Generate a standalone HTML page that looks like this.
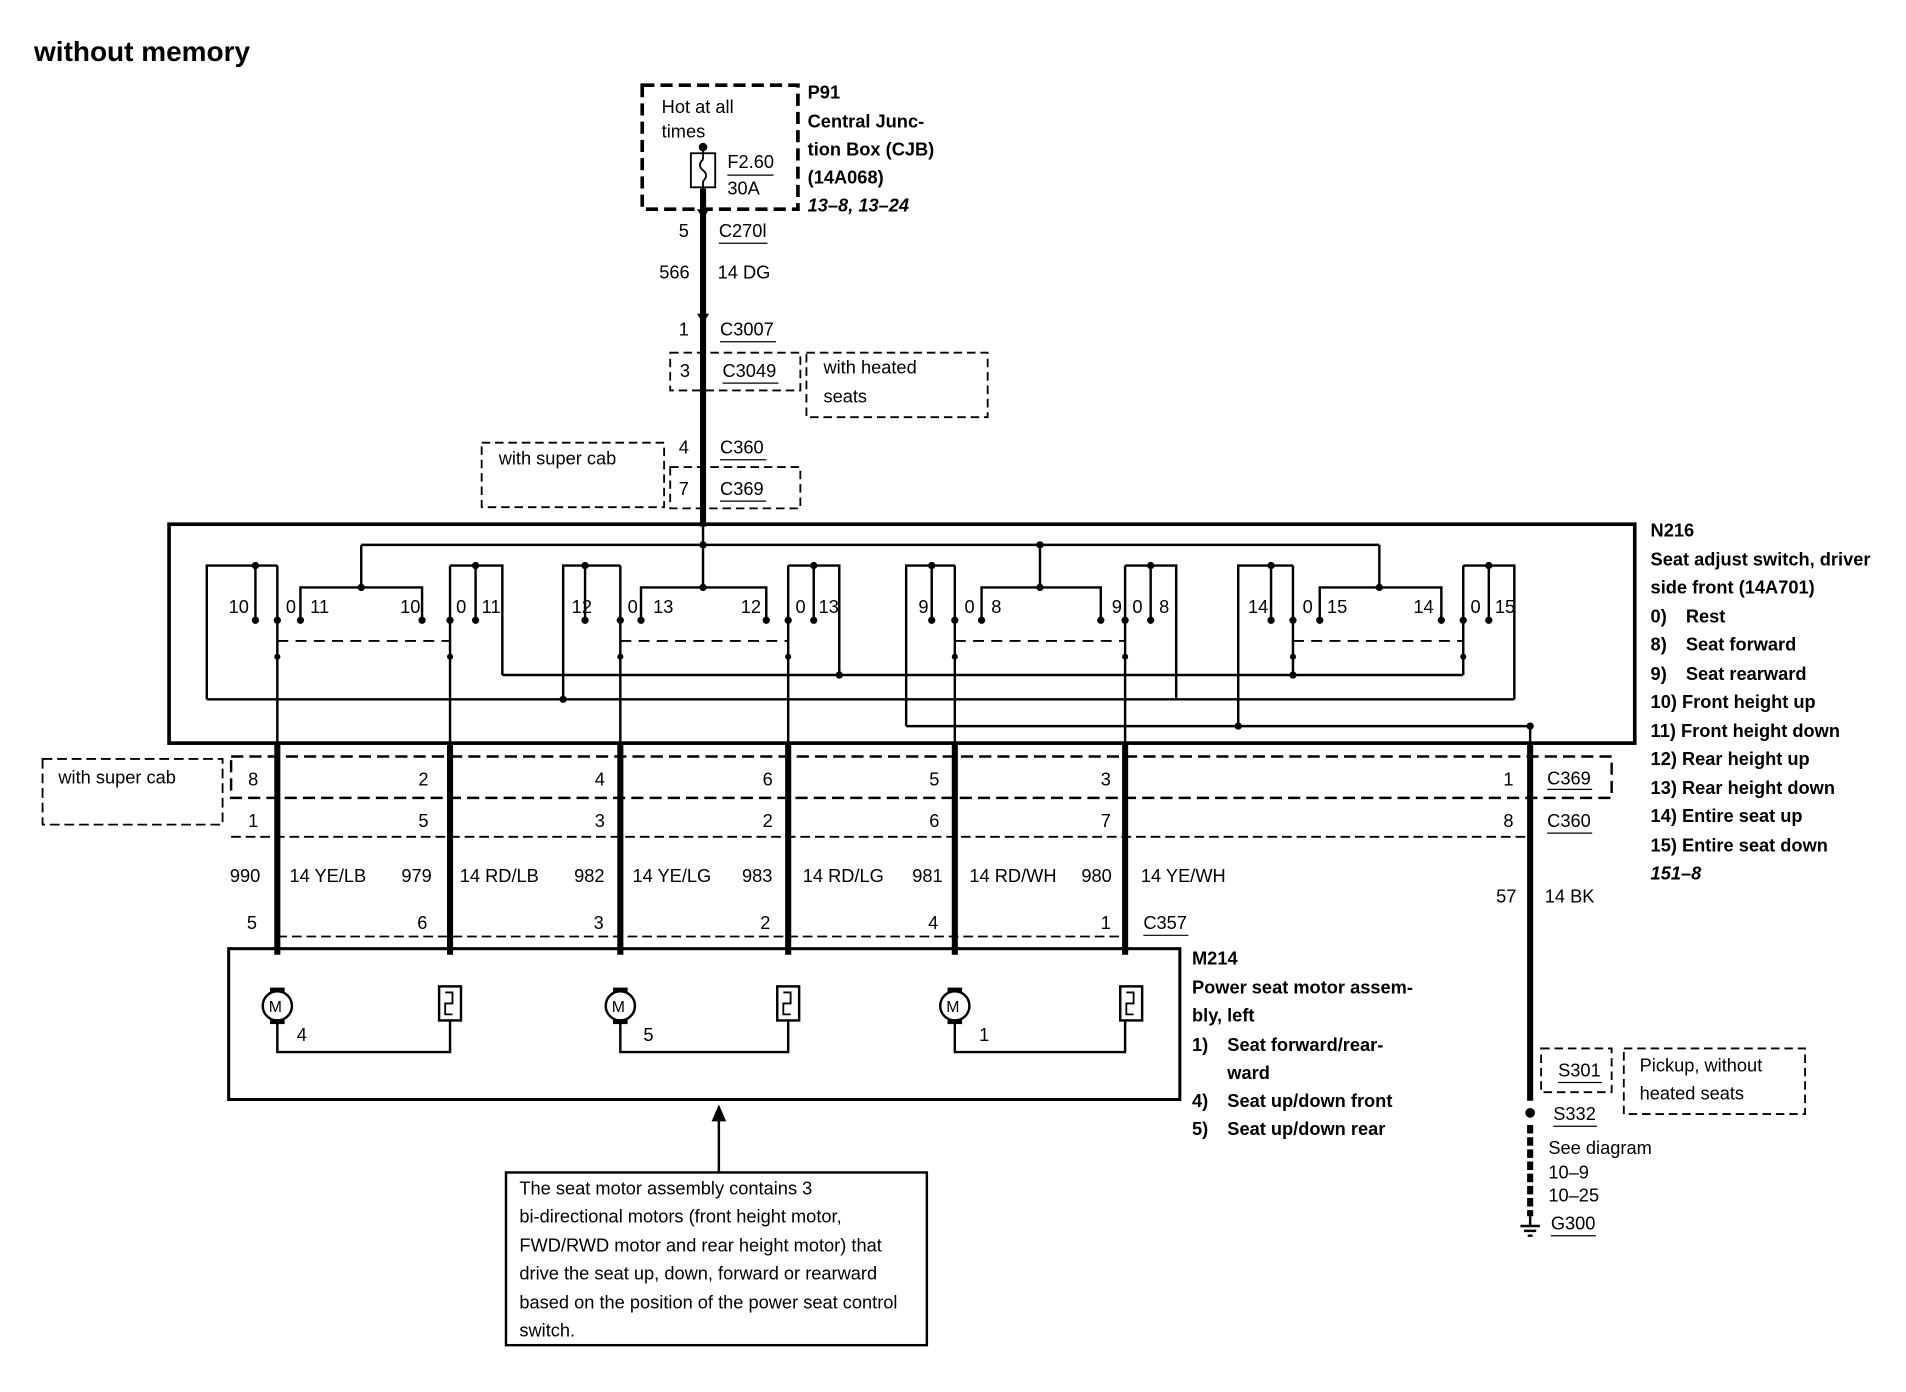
<!DOCTYPE html>
<html><head><meta charset="utf-8"><style>
html,body{margin:0;padding:0;background:#fff;}
svg{display:block;}
text{font-family:"Liberation Sans",Arial,sans-serif;font-size:15px;fill:#000;}
.b{font-weight:bold;}
.i{font-style:italic;font-weight:bold;}
</style></head><body>
<svg width="1906" height="1392" viewBox="0 0 1567 1144.5" preserveAspectRatio="none" xmlns="http://www.w3.org/2000/svg">
<g fill="none" stroke="#000">
<rect x="528" y="70" width="128" height="102" stroke-width="3" stroke-dasharray="10,5"/>
<rect x="568" y="126" width="20" height="28" stroke-width="1.5"/>
<path d="M578 121 V131 M578 131 q-5 5 0 9 q5 4 0 9 V155" stroke-width="1.5"/>
<line x1="598" y1="144" x2="636" y2="144" stroke-width="1"/>
<line x1="578" y1="155" x2="578" y2="433" stroke-width="5"/>
<rect x="551" y="290" width="107" height="31" stroke-width="1.5" stroke-dasharray="7,4"/>
<rect x="663" y="290" width="149" height="53" stroke-width="1.5" stroke-dasharray="7,4"/>
<rect x="396" y="364" width="150" height="53" stroke-width="1.5" stroke-dasharray="7,4"/>
<rect x="551" y="384" width="107" height="34" stroke-width="1.5" stroke-dasharray="7,4"/>
<g stroke-width="1">
<line x1="591" y1="200" x2="631" y2="200"/>
<line x1="592" y1="281" x2="638" y2="281"/>
<line x1="594" y1="315" x2="640" y2="315"/>
<line x1="592" y1="378" x2="630" y2="378"/>
<line x1="592" y1="412" x2="630" y2="412"/>
<line x1="1272" y1="649" x2="1309" y2="649"/>
<line x1="1272" y1="685" x2="1309" y2="685"/>
<line x1="940" y1="769" x2="977" y2="769"/>
<line x1="1281" y1="890" x2="1317" y2="890"/>
<line x1="1277" y1="926" x2="1313" y2="926"/>
<line x1="1275" y1="1016" x2="1312" y2="1016"/>
</g>
<rect x="139" y="431" width="1205" height="180" stroke-width="3"/>
<g stroke-width="2">
<path d="M578 431 V483 M297 448 H1134 M297 448 V483 M855 448 V483 M1134 448 V483"/>
<path d="M170 575 V465 H228 M210 465 V510 M228 465 V611"/>
<path d="M247 510 V483 H347 V510"/>
<path d="M370 465 V611 M370 465 H413 V555 M391 465 V510"/>
<path d="M463 575 V465 H510 M481 465 V510 M510 465 V611"/>
<path d="M527 510 V483 H630 V510"/>
<path d="M648 465 V611 M648 465 H690 V555 M669 465 V510"/>
<path d="M745 597 V465 H785 M766 465 V510 M785 465 V611"/>
<path d="M807 510 V483 H905 V510"/>
<path d="M925 465 V611 M925 465 H967 V575 M946 465 V510"/>
<path d="M1018 597 V465 H1063 M1045 465 V510 M1063 465 V555"/>
<path d="M1085 510 V483 H1185 V510"/>
<path d="M1203 465 V555 M1203 465 H1245 V575 M1224 465 V510"/>
<path d="M170 575 H1245 M413 555 H1203 M745 597 H1258 V611"/>
</g>
<g stroke-width="1.5" stroke-dasharray="9,6">
<line x1="228" y1="527" x2="370" y2="527"/>
<line x1="510" y1="527" x2="648" y2="527"/>
<line x1="785" y1="527" x2="925" y2="527"/>
<line x1="1063" y1="527" x2="1203" y2="527"/>
</g>
<g stroke-width="5">
<line x1="228" y1="611" x2="228" y2="785"/>
<line x1="370" y1="611" x2="370" y2="785"/>
<line x1="510" y1="611" x2="510" y2="785"/>
<line x1="648" y1="611" x2="648" y2="785"/>
<line x1="785" y1="611" x2="785" y2="785"/>
<line x1="925" y1="611" x2="925" y2="785"/>
<line x1="1258" y1="611" x2="1258" y2="905"/>
<line x1="1258" y1="925" x2="1258" y2="1000" stroke-dasharray="7,3"/>
</g>
<rect x="190" y="622" width="1135" height="34" stroke-width="2" stroke-dasharray="10,5"/>
<line x1="190" y1="688" x2="1258" y2="688" stroke-width="1.5" stroke-dasharray="8,4"/>
<rect x="35" y="624" width="148" height="54" stroke-width="1.5" stroke-dasharray="8,4"/>
<line x1="228" y1="770" x2="925" y2="770" stroke-width="1.5" stroke-dasharray="8,4"/>
<rect x="188" y="780" width="782" height="124" stroke-width="2.5"/>
<g stroke-width="2">
<path d="M228 840 V865 H370 V840 M510 840 V865 H648 V840 M785 840 V865 H925 V840"/>
<circle cx="228" cy="827" r="12" fill="#fff"/>
<circle cx="510" cy="827" r="12" fill="#fff"/>
<circle cx="785" cy="827" r="12" fill="#fff"/>
<rect x="361" y="811" width="18" height="28" fill="#fff"/>
<rect x="639" y="811" width="18" height="28" fill="#fff"/>
<rect x="921" y="811" width="18" height="28" fill="#fff"/>
<path d="M366 816 h6 v9 h-6 v9 h6 M644 816 h6 v9 h-6 v9 h6 M926 816 h6 v9 h-6 v9 h6" stroke-width="1.5"/>
</g>
<line x1="591" y1="963" x2="591" y2="920" stroke-width="2"/>
<rect x="416" y="964" width="346" height="142" stroke-width="2"/>
<rect x="1267" y="862" width="58" height="36" stroke-width="1.5" stroke-dasharray="7,4"/>
<rect x="1335" y="862" width="149" height="54" stroke-width="1.5" stroke-dasharray="7,4"/>
<path d="M1258 1000 V1008 M1250 1008 H1266 M1253 1012 H1263 M1256 1016 H1260" stroke-width="2"/>
</g>
<g fill="#000">
<circle cx="578" cy="121" r="3.5"/>
<circle cx="578" cy="448" r="3"/><circle cx="297" cy="483" r="3"/><circle cx="578" cy="483" r="3"/><circle cx="855" cy="483" r="3"/><circle cx="1134" cy="483" r="3"/><circle cx="855" cy="448" r="3"/>
<circle cx="210" cy="465" r="3"/><circle cx="391" cy="465" r="3"/><circle cx="481" cy="465" r="3"/><circle cx="669" cy="465" r="3"/><circle cx="766" cy="465" r="3"/><circle cx="946" cy="465" r="3"/><circle cx="1045" cy="465" r="3"/><circle cx="1224" cy="465" r="3"/>
<circle cx="210" cy="510" r="3"/><circle cx="228" cy="510" r="3"/><circle cx="247" cy="510" r="3"/><circle cx="347" cy="510" r="3"/><circle cx="370" cy="510" r="3"/><circle cx="391" cy="510" r="3"/>
<circle cx="481" cy="510" r="3"/><circle cx="510" cy="510" r="3"/><circle cx="527" cy="510" r="3"/><circle cx="630" cy="510" r="3"/><circle cx="648" cy="510" r="3"/><circle cx="669" cy="510" r="3"/>
<circle cx="766" cy="510" r="3"/><circle cx="785" cy="510" r="3"/><circle cx="807" cy="510" r="3"/><circle cx="905" cy="510" r="3"/><circle cx="925" cy="510" r="3"/><circle cx="946" cy="510" r="3"/>
<circle cx="1045" cy="510" r="3"/><circle cx="1063" cy="510" r="3"/><circle cx="1085" cy="510" r="3"/><circle cx="1185" cy="510" r="3"/><circle cx="1203" cy="510" r="3"/><circle cx="1224" cy="510" r="3"/>
<circle cx="228" cy="540" r="2.5"/><circle cx="370" cy="540" r="2.5"/><circle cx="510" cy="540" r="2.5"/><circle cx="648" cy="540" r="2.5"/><circle cx="785" cy="540" r="2.5"/><circle cx="925" cy="540" r="2.5"/><circle cx="1063" cy="540" r="2.5"/><circle cx="1203" cy="540" r="2.5"/>
<circle cx="463" cy="575" r="3"/><circle cx="690" cy="555" r="3"/><circle cx="1063" cy="555" r="3"/><circle cx="1018" cy="597" r="3"/><circle cx="1258" cy="597" r="3"/>
<circle cx="1258" cy="915" r="4"/>
<path d="M591 908 l-6 14 h12z"/>
<path d="M573 172 l5 8 5-8 z M573 258 l5 8 5-8z"/>
<rect x="222" y="812" width="12" height="4"/><rect x="222" y="838" width="12" height="4"/>
<rect x="504" y="812" width="12" height="4"/><rect x="504" y="838" width="12" height="4"/>
<rect x="779" y="812" width="12" height="4"/><rect x="779" y="838" width="12" height="4"/>
</g>
<text x="28" y="50" class="b" style="font-size:23px">without memory</text>
<text x="544" y="93">Hot at all</text><text x="544" y="113">times</text>
<text x="598" y="138">F2.60</text><text x="598" y="160">30A</text>
<text x="664" y="81" class="b">P91</text>
<text x="664" y="105" class="b">Central Junc-</text>
<text x="664" y="128" class="b">tion Box (CJB)</text>
<text x="664" y="151" class="b">(14A068)</text>
<text x="664" y="174" class="i">13–8, 13–24</text>
<text x="558" y="195">5</text><text x="591" y="195">C270l</text>
<text x="542" y="229">566</text><text x="590" y="229">14 DG</text>
<text x="558" y="276">1</text><text x="592" y="276">C3007</text>
<text x="559" y="310">3</text><text x="594" y="310">C3049</text>
<text x="677" y="307">with heated</text><text x="677" y="331">seats</text>
<text x="558" y="373">4</text><text x="592" y="373">C360</text>
<text x="410" y="382">with super cab</text>
<text x="558" y="407">7</text><text x="592" y="407">C369</text>
<text x="188" y="504">10</text><text x="235" y="504">0</text><text x="255" y="504">11</text><text x="329" y="504">10</text><text x="375" y="504">0</text><text x="396" y="504">11</text>
<text x="470" y="504">12</text><text x="516" y="504">0</text><text x="537" y="504">13</text><text x="609" y="504">12</text><text x="654" y="504">0</text><text x="673" y="504">13</text>
<text x="755" y="504">9</text><text x="793" y="504">0</text><text x="815" y="504">8</text><text x="914" y="504">9</text><text x="931" y="504">0</text><text x="953" y="504">8</text>
<text x="1026" y="504">14</text><text x="1071" y="504">0</text><text x="1091" y="504">15</text><text x="1162" y="504">14</text><text x="1209" y="504">0</text><text x="1229" y="504">15</text>
<text x="1357" y="441" class="b">N216</text>
<text x="1357" y="465" class="b">Seat adjust switch, driver</text>
<text x="1357" y="488" class="b">side front (14A701)</text>
<text x="1357" y="512" class="b">0)</text><text x="1386" y="512" class="b">Rest</text>
<text x="1357" y="535" class="b">8)</text><text x="1386" y="535" class="b">Seat forward</text>
<text x="1357" y="559" class="b">9)</text><text x="1386" y="559" class="b">Seat rearward</text>
<text x="1357" y="582" class="b">10) Front height up</text>
<text x="1357" y="606" class="b">11) Front height down</text>
<text x="1357" y="629" class="b">12) Rear height up</text>
<text x="1357" y="653" class="b">13) Rear height down</text>
<text x="1357" y="676" class="b">14) Entire seat up</text>
<text x="1357" y="700" class="b">15) Entire seat down</text>
<text x="1357" y="723" class="i">151–8</text>
<text x="48" y="644">with super cab</text>
<text x="204" y="646">8</text><text x="344" y="646">2</text><text x="489" y="646">4</text><text x="627" y="646">6</text><text x="764" y="646">5</text><text x="905" y="646">3</text><text x="1236" y="646">1</text><text x="1272" y="645">C369</text>
<text x="204" y="680">1</text><text x="344" y="680">5</text><text x="489" y="680">3</text><text x="627" y="680">2</text><text x="764" y="680">6</text><text x="905" y="680">7</text><text x="1236" y="680">8</text><text x="1272" y="680">C360</text>
<text x="189" y="725">990</text><text x="238" y="725">14  YE/LB</text>
<text x="330" y="725">979</text><text x="378" y="725">14 RD/LB</text>
<text x="472" y="725">982</text><text x="520" y="725">14 YE/LG</text>
<text x="610" y="725">983</text><text x="660" y="725">14 RD/LG</text>
<text x="750" y="725">981</text><text x="797" y="725">14 RD/WH</text>
<text x="889" y="725">980</text><text x="938" y="725">14 YE/WH</text>
<text x="1230" y="742">57</text><text x="1270" y="742">14 BK</text>
<text x="203" y="764">5</text><text x="343" y="764">6</text><text x="488" y="764">3</text><text x="625" y="764">2</text><text x="763" y="764">4</text><text x="905" y="764">1</text><text x="940" y="764">C357</text>
<text x="221" y="832" style="font-size:13px">M</text><text x="503" y="832" style="font-size:13px">M</text><text x="778" y="832" style="font-size:13px">M</text>
<text x="244" y="856">4</text><text x="529" y="856">5</text><text x="805" y="856">1</text>
<text x="980" y="793" class="b">M214</text>
<text x="980" y="817" class="b">Power seat motor assem-</text>
<text x="980" y="840" class="b">bly, left</text>
<text x="980" y="864" class="b">1)</text><text x="1009" y="864" class="b">Seat forward/rear-</text>
<text x="1009" y="887" class="b">ward</text>
<text x="980" y="910" class="b">4)</text><text x="1009" y="910" class="b">Seat up/down front</text>
<text x="980" y="933" class="b">5)</text><text x="1009" y="933" class="b">Seat up/down rear</text>
<text x="427" y="982">The seat motor assembly contains 3</text>
<text x="427" y="1005">bi-directional motors (front height motor,</text>
<text x="427" y="1029">FWD/RWD motor and rear height motor) that</text>
<text x="427" y="1052">drive the seat up, down, forward or rearward</text>
<text x="427" y="1076">based on the position of the power seat control</text>
<text x="427" y="1099">switch.</text>
<text x="1281" y="885">S301</text>
<text x="1348" y="881">Pickup, without</text><text x="1348" y="904">heated seats</text>
<text x="1277" y="921">S332</text>
<text x="1273" y="949">See diagram</text>
<text x="1273" y="969">10–9</text>
<text x="1273" y="988">10–25</text>
<text x="1275" y="1011">G300</text>
</svg>
</body></html>
